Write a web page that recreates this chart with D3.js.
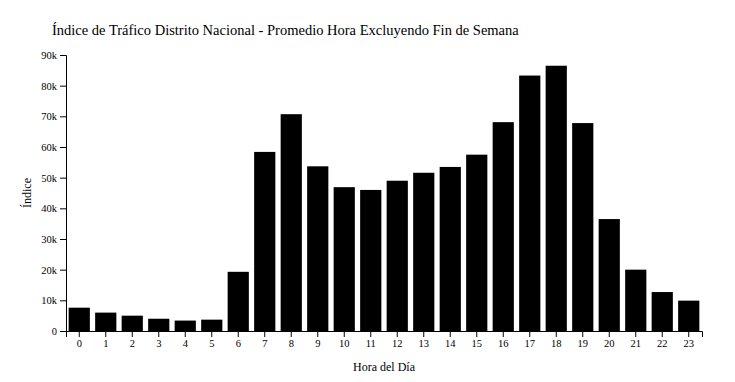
<!DOCTYPE html>
<html>
<head>
<meta charset="utf-8">
<script src="https://cdn.jsdelivr.net/npm/d3@7"></script>
<style>
  body { margin: 0; background: #fff; }
  svg { display: block; font-family: "Liberation Serif", "Times New Roman", serif; }
</style>
</head>
<body>
<svg id="chart" width="735" height="382"></svg>
<script>
const hours = ["0","1","2","3","4","5","6","7","8","9","10","11","12","13","14","15","16","17","18","19","20","21","22","23"];
const values = [7600, 6000, 5000, 4000, 3400, 3700, 19300, 58400, 70700, 53700, 46900, 46000, 49000, 51600, 53500, 57500, 68100, 83300, 86500, 67800, 36500, 20000, 12700, 9900];
const yTicks = [0, 10000, 20000, 30000, 40000, 50000, 60000, 70000, 80000, 90000];
const title = "Índice de Tráfico Distrito Nacional - Promedio Hora Excluyendo Fin de Semana";
const xLabel = "Hora del Día";
const yLabel = "Índice";

const W = 735, H = 382;
const margin = {top: 55, right: 33, bottom: 51, left: 66};
const svg = d3.select("#chart");
const g = svg.append("g").attr("transform", `translate(${margin.left},${margin.top})`);
const iw = W - margin.left - margin.right, ih = H - margin.top - margin.bottom;

const x = d3.scaleBand().domain(hours).range([0, iw]).paddingInner(0.2).paddingOuter(0.1);
const y = d3.scaleLinear().domain([0, 90000]).range([ih, 0]);

g.selectAll("rect.bar").data(values).join("rect")
  .attr("class", "bar")
  .attr("x", (d, i) => x(hours[i]))
  .attr("y", d => y(d))
  .attr("width", x.bandwidth())
  .attr("height", d => ih - y(d))
  .attr("fill", "#000");

const yAxis = g.append("g").call(d3.axisLeft(y).tickValues(yTicks).tickFormat(d3.format("~s")));
const xAxis = g.append("g").attr("transform", `translate(0,${ih})`).call(d3.axisBottom(x));
[yAxis, xAxis].forEach(a => {
  a.selectAll("text").attr("font-family", "Liberation Serif").attr("font-size", 10.5).attr("fill", "#000");
  a.selectAll("path, line").attr("stroke", "#000");
});

svg.append("text").attr("x", 52).attr("y", 35)
  .attr("font-size", 14.5).attr("fill", "#000").text(title);
svg.append("text").attr("x", margin.left + iw / 2).attr("y", 371)
  .attr("text-anchor", "middle").attr("font-size", 12).attr("fill", "#000").text(xLabel);
svg.append("text").attr("transform", `translate(31,${margin.top + ih / 2}) rotate(-90)`)
  .attr("text-anchor", "middle").attr("font-size", 12).attr("fill", "#000").text(yLabel);
</script>
</body>
</html>
